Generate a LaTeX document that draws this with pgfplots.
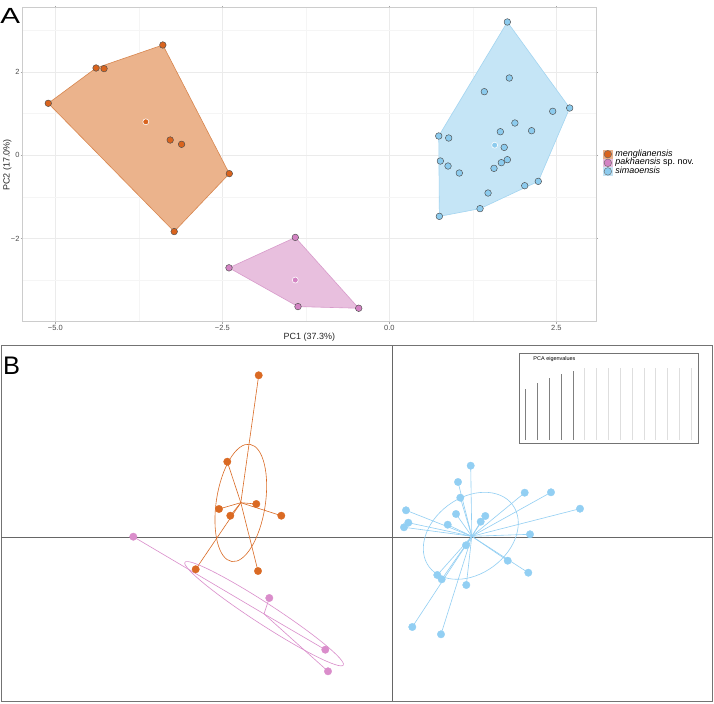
\documentclass[border=0pt]{standalone}
\usepackage{fontspec}
\setmainfont{Liberation Sans}
\usepackage{pgfplots}
\usepackage{pgfplotstable}
\pgfplotsset{compat=1.18}

% group colours
\definecolor{orgpt}{HTML}{D9641E}
\definecolor{orgfill}{HTML}{EBB38C}
\definecolor{orgline}{HTML}{D8864E}
\definecolor{pnkpt}{HTML}{D383C3}
\definecolor{pnkfill}{HTML}{E8BFDE}
\definecolor{pnkline}{HTML}{D89BCB}
\definecolor{blupt}{HTML}{8CCBEE}
\definecolor{blufill}{HTML}{C5E5F6}
\definecolor{bluline}{HTML}{A3D5F1}
\definecolor{orgB}{HTML}{DA6A24}
\definecolor{pnkB}{HTML}{DA8DCB}
\definecolor{bluB}{HTML}{92CFF3}

% ---- PCA scores (PC1, PC2) ----
\pgfplotstableread{
x y
-5.105 1.248
-4.390 2.095
-4.270 2.080
-3.390 2.647
-3.280 0.367
-3.110 0.264
-2.395 -0.440
-3.220 -1.830
}\menA
\pgfplotstableread{
x y
-5.105 1.248
-4.390 2.095
-3.390 2.647
-2.395 -0.440
-3.220 -1.830
}\menHull
\pgfplotstableread{
x y
-2.400 -2.700
-1.407 -1.970
-1.367 -3.630
-0.458 -3.670
}\pakA
\pgfplotstableread{
x y
-2.400 -2.700
-1.407 -1.970
-0.458 -3.670
-1.367 -3.630
}\pakHull
\pgfplotstableread{
x y
1.767 3.199
1.796 1.855
1.422 1.527
2.446 1.056
2.700 1.135
1.880 0.775
1.662 0.566
2.130 0.590
0.740 0.463
0.889 0.415
1.720 0.190
0.764 -0.137
0.879 -0.257
1.048 -0.425
1.767 -0.105
1.677 -0.177
1.567 -0.313
2.230 -0.625
2.027 -0.730
1.478 -0.905
1.358 -1.280
0.749 -1.465
}\simA
\pgfplotstableread{
x y
0.749 -1.465
1.358 -1.280
2.230 -0.625
2.700 1.135
1.767 3.199
0.740 0.463
}\simHull

% ---- discriminant scores ----
\pgfplotstableread{
x y
-133.6 162.0
-165.0 75.6
-136.0 33.3
-173.3 28.3
-162.0 21.6
-111.0 21.6
-196.6 -32.0
-134.3 -33.7
}\menB
\pgfplotstableread{
x y
-259.0 0.6
-123.0 -60.7
-67.0 -112.4
-64.3 -134.0
}\pakB
\pgfplotstableread{
x y
78.4 71.6
65.7 55.3
68.0 39.6
132.4 44.6
158.7 45.0
187.7 28.6
13.7 27.0
16.0 14.6
11.7 10.0
55.4 12.6
63.7 23.3
88.4 15.6
93.0 21.3
137.7 3.0
73.7 -8.0
115.4 -23.4
136.0 -35.4
45.0 -37.7
49.4 -42.0
74.0 -47.7
20.0 -89.7
48.7 -97.0
}\simB

\begin{document}
\begin{tikzpicture}
\useasboundingbox (0,0) rectangle (714bp,704bp);
\fill[white] (0,0) rectangle (714bp,704bp);

% ================= A: PCA scatter with convex hulls =================
\begin{axis}[
  at={(22.7bp,382bp)}, anchor=south west, scale only axis,
  width=573.3bp, height=314bp,
  xmin=-5.488, xmax=3.094, ymin=-4.0, ymax=3.535,
  xtick={-5,-2.5,0,2.5}, xticklabels={−5.0,−2.5,0.0,2.5},
  ytick={-2,0,2}, yticklabels={−2,0,2},
  minor xtick={-3.75,-1.25,1.25}, minor ytick={-3,-1,1,3},
  grid=both,
  major grid style={draw=black!8, line width=0.5bp},
  minor grid style={draw=black!4, line width=0.4bp},
  axis line style={draw=black!20, line width=1bp},
  tick align=outside, major tick length=2bp, minor tick length=0pt,
  tick style={draw=black!35, line width=0.4bp},
  tick label style={font=\fontsize{7.5}{8}\selectfont, text=black!70},
  xticklabel style={inner sep=1bp},
  yticklabel style={inner sep=1bp},
  xlabel={PC1 (37.3\%)}, ylabel={PC2 (17.0\%)},
  label style={font=\fontsize{9}{10}\selectfont, text=black!85},
  xlabel style={at={(axis description cs:0.5,-0.047)}, anchor=center},
  ylabel style={at={(axis description cs:-0.0269,0.5)}, anchor=center},
  legend style={at={(axis description cs:1.0122,0.548)}, anchor=north west,
    draw=none, fill=none, inner sep=0pt, outer sep=0pt, row sep=0pt,
    font=\fontsize{9}{9}\selectfont,
    nodes={inner ysep=0pt, inner xsep=2.65bp, text height=6.2bp, text depth=2bp}},
  legend cell align=left,
]
\addplot[fill=orgfill, draw=orgline, line width=0.6bp, forget plot] table {\menHull} -- cycle;
\addplot[fill=pnkfill, draw=pnkline, line width=0.6bp, forget plot] table {\pakHull} -- cycle;
\addplot[fill=blufill, draw=bluline, line width=0.6bp, forget plot] table {\simHull} -- cycle;

\addplot[only marks, mark=*, mark size=3.3bp, draw=black!70, fill=orgpt, line width=0.45bp, forget plot] table {\menA};
\addplot[only marks, mark=*, mark size=3.3bp, draw=black!70, fill=pnkpt, line width=0.45bp, forget plot] table {\pakA};
\addplot[only marks, mark=*, mark size=3.3bp, draw=black!70, fill=blupt, line width=0.45bp, forget plot] table {\simA};

% group centroids
\addplot[only marks, mark=*, mark size=3bp, forget plot,
  mark options={draw=white, fill=orgpt, line width=0.6bp}] coordinates {(-3.645,0.804)};
\addplot[only marks, mark=*, mark size=3bp, forget plot,
  mark options={draw=white, fill=pnkpt, line width=0.6bp}] coordinates {(-1.408,-2.993)};
\addplot[only marks, mark=*, mark size=3bp, forget plot,
  mark options={draw=white, fill=blupt, line width=0.6bp}] coordinates {(1.577,0.243)};

\addlegendimage{legend image code/.code={
  \fill[orgfill] (0bp,-4.1bp) rectangle (9.3bp,4.1bp);
  \draw[fill=orgpt, draw=black!60, line width=0.4bp] (4.65bp,0bp) circle (3.8bp);}}
\addlegendimage{legend image code/.code={
  \fill[pnkfill] (0bp,-4.1bp) rectangle (9.3bp,4.1bp);
  \draw[fill=pnkpt, draw=black!60, line width=0.4bp] (4.65bp,0bp) circle (3.8bp);}}
\addlegendimage{legend image code/.code={
  \fill[blufill] (0bp,-4.1bp) rectangle (9.3bp,4.1bp);
  \draw[fill=blupt, draw=black!60, line width=0.4bp] (4.65bp,0bp) circle (3.8bp);}}
\legend{\textit{menglianensis}, \textit{pakhaensis} sp.\ nov., \textit{simaoensis}}
\end{axis}

% ================= B: discriminant scatter with ellipses =================
\begin{axis}[
  at={(1bp,3bp)}, anchor=south west, scale only axis,
  width=711.7bp, height=355.3bp,
  xmin=-391.3, xmax=320.4, ymin=-163.7, ymax=191.6,
  ticks=none,
  axis line style={draw=black!55, line width=0.9bp},
]
\draw[black!60, line width=0.9bp] (axis cs:0,-163.7) -- (axis cs:0,191.6);
\draw[black!60, line width=0.9bp] (axis cs:-391.3,0) -- (axis cs:320.4,0);

% inertia ellipses
\draw[orgB, line width=0.6bp, rotate around={81.2:(axis cs:-151.5,34.4)}]
  (axis cs:-151.5,34.4) ellipse [x radius=59.3bp, y radius=24.5bp];
\draw[pnkB, line width=0.6bp, rotate around={-33:(axis cs:-128.2,-76.4)}]
  (axis cs:-128.2,-76.4) ellipse [x radius=94.4bp, y radius=10.5bp];
\draw[bluB, line width=0.6bp, rotate around={36.6:(axis cs:78.5,1.5)}]
  (axis cs:78.5,1.5) ellipse [x radius=52bp, y radius=38bp];

% spokes from each group centre
\addplot[orgB, line width=0.6bp, mark=none, quiver={u={-151.5-\thisrow{x}}, v={34.6-\thisrow{y}}}] table {\menB};
\addplot[pnkB, line width=0.6bp, mark=none, quiver={u={-128.3-\thisrow{x}}, v={-76.6-\thisrow{y}}}] table {\pakB};
\addplot[bluB, line width=0.6bp, mark=none, quiver={u={79.5-\thisrow{x}}, v={1.0-\thisrow{y}}}] table {\simB};

\addplot[only marks, mark=*, mark size=3.7bp, color=orgB] table {\menB};
\addplot[only marks, mark=*, mark size=3.7bp, color=pnkB] table {\pakB};
\addplot[only marks, mark=*, mark size=3.7bp, color=bluB] table {\simB};
\end{axis}

% eigenvalue inset
\begin{axis}[
  at={(519.3bp,260.7bp)}, anchor=south west, scale only axis,
  width=179bp, height=90bp,
  xmin=0.46, xmax=15.59, ymin=-3.3, ymax=86.7,
  ticks=none,
  axis line style={draw=black!55, line width=0.9bp},
  axis background/.style={fill=white},
]
\addplot[ycomb, draw=black!50, line width=0.8bp, mark=none] coordinates {
  (1,51.0) (2,57.3) (3,62.3) (4,66.0) (5,68.7)};
\addplot[ycomb, draw=black!13, line width=0.8bp, mark=none] coordinates {
  (6,72) (7,72) (8,72) (9,72) (10,72) (11,72) (12,72) (13,72) (14,72) (15,72)};
\node[anchor=west, inner sep=0pt, font=\fontsize{5.5}{6}\selectfont] at (axis cs:1.64,80.7) {PCA eigenvalues};
\end{axis}

% panel letters
\node[anchor=base west, inner sep=0pt, xscale=1.35, font=\fontsize{22}{22}\selectfont] at (0bp,680bp) {A};
\node[anchor=base west, inner sep=0pt, font=\fontsize{25.5}{25.5}\selectfont] at (3bp,329bp) {B};
\end{tikzpicture}
\end{document}
